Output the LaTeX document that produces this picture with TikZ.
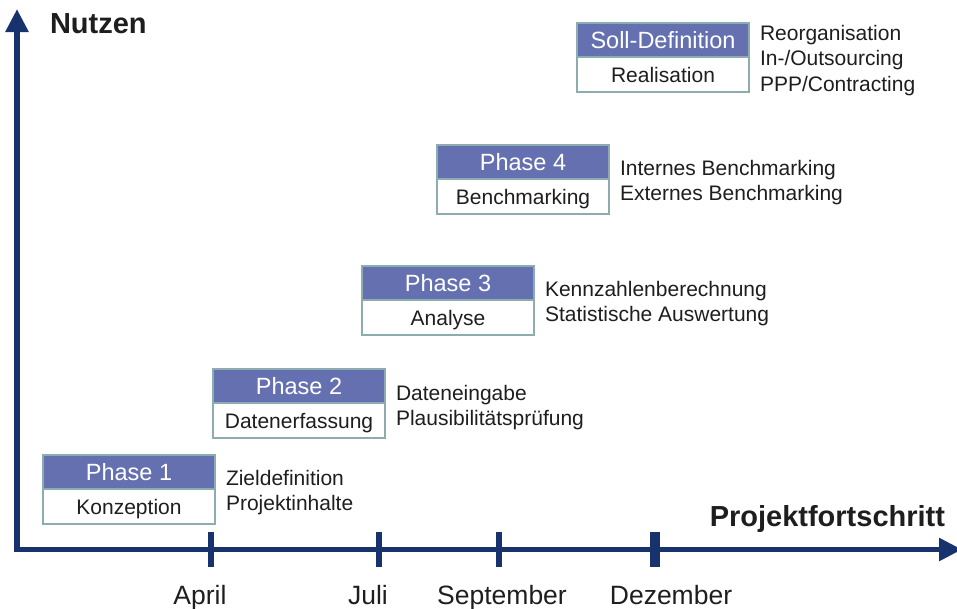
\documentclass[tikz,border=0pt]{standalone}
\usepackage{fontspec}
\setmainfont{Liberation Sans}
\usetikzlibrary{arrows.meta,positioning}
\definecolor{axisblue}{RGB}{24,50,110}
\definecolor{phasefill}{RGB}{101,112,176}
\definecolor{boxline}{RGB}{140,172,176}
\definecolor{labelgray}{RGB}{30,30,30}

\begin{document}
\begin{tikzpicture}[x=1pt, y=-1pt,
	every node/.style={text=labelgray, inner sep=0pt, outer sep=0pt},
	>={Triangle[length=23pt, width=22pt]},
	phasehead/.style={draw=boxline, line width=1.3pt, fill=phasefill, text=white, minimum width=172pt, minimum height=34pt, text height=16.5pt, text depth=0pt, font=\fontsize{23.5}{26}\selectfont},
	phasebody/.style={draw=boxline, line width=1.3pt, fill=white, minimum width=172pt, minimum height=35pt, text height=15pt, text depth=0pt, font=\fontsize{21}{24}\selectfont},
	tasks/.style={anchor=base west, align=left, font=\fontsize{21}{25.5}\selectfont},
	axislabel/.style={font=\bfseries\fontsize{29}{32}\selectfont},
	month/.style={anchor=base, font=\fontsize{26.5}{28}\selectfont}]
	\useasboundingbox (0,0) rectangle (957,608);
	\coordinate (ytip) at (17,9);
	\coordinate (xtip) at (962,549.5);
	\draw[<->, axisblue, line width=5.6pt] (ytip) |- (xtip);
	\foreach \x/\w in {211/6.5, 379/6.5, 499/6.5, 655/10}
		\draw[axisblue, line width=\w pt] (\x,532) -- (\x,567);
	\node[month] (apr) at (200,604) {April};
	\node[month] (jul) at (368,604) {Juli};
	\node[month] (sep) at (502,604) {September};
	\node[month] (dez) at (671,604) {Dezember};
	\node[axislabel, anchor=base west] (nutzen) at (50,33) {Nutzen};
	\node[axislabel, anchor=base east] (fortschritt) at (945,526) {Projektfortschritt};

	\node[phasehead, anchor=north west] (p1h) at (43,455) {Phase 1};
	\node[phasebody, below=0pt of p1h] (p1b) {Konzeption};
	\node[tasks] (p1t) at ([shift={(11,55.5)}]p1h.north east) {Zieldefinition\\Projektinhalte};

	\node[phasehead, anchor=north west] (p2h) at (213,369) {Phase 2};
	\node[phasebody, below=0pt of p2h] (p2b) {Datenerfassung};
	\node[tasks] (p2t) at ([shift={(11,56.5)}]p2h.north east) {Dateneingabe\\Plausibilitätsprüfung};

	\node[phasehead, anchor=north west] (p3h) at (362,266) {Phase 3};
	\node[phasebody, below=0pt of p3h] (p3b) {Analyse};
	\node[tasks] (p3t) at ([shift={(11,55.5)}]p3h.north east) {Kennzahlenberechnung\\Statistische Auswertung};

	\node[phasehead, anchor=north west] (p4h) at (437,145) {Phase 4};
	\node[phasebody, below=0pt of p4h] (p4b) {Benchmarking};
	\node[tasks] (p4t) at ([shift={(11,55.5)}]p4h.north east) {Internes Benchmarking\\Externes Benchmarking};

	\node[phasehead, anchor=north west] (sollh) at (577,23) {Soll-Definition};
	\node[phasebody, below=0pt of sollh] (sollb) {Realisation};
	\node[tasks] (sollt) at ([shift={(11,68)}]sollh.north east) {Reorganisation\\In-/Outsourcing\\PPP/Contracting};
\end{tikzpicture}
\end{document}
